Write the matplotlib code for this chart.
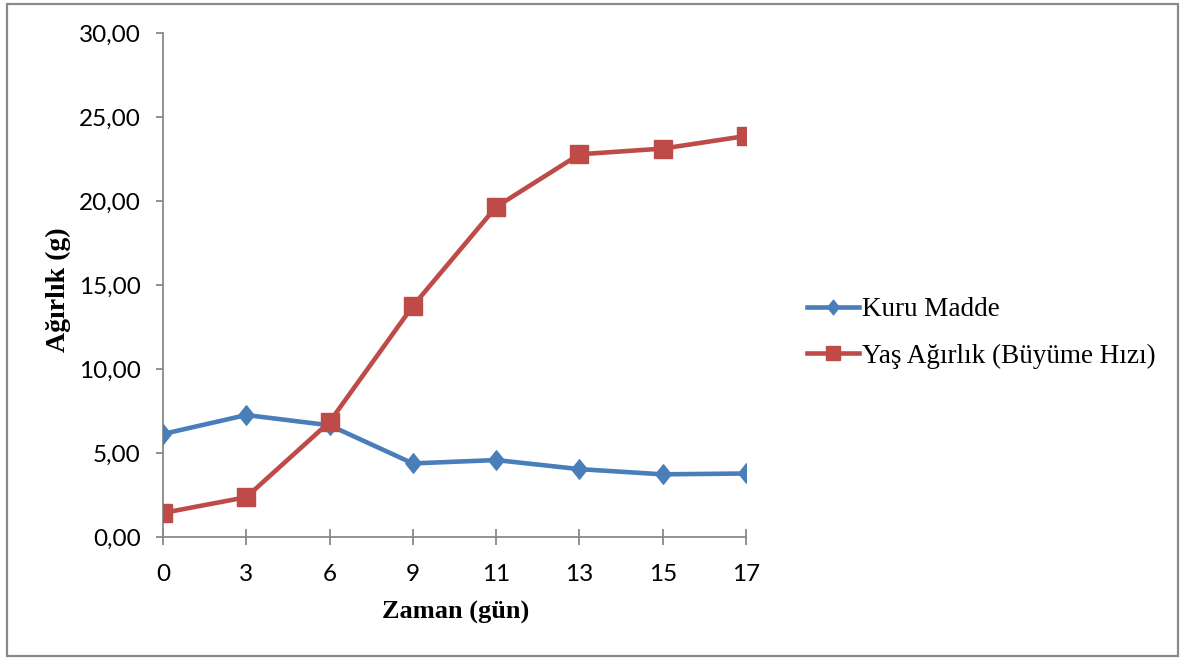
import numpy as np
import matplotlib.pyplot as plt
from matplotlib.path import Path
from matplotlib.patches import Rectangle

days = ['0', '3', '6', '9', '11', '13', '15', '17']
kuru_madde = [6.13, 7.26, 6.65, 4.38, 4.58, 4.04, 3.73, 3.78]
yas_agirlik = [1.43, 2.37, 6.85, 13.75, 19.65, 22.78, 23.12, 23.87]
y_ticks = [0, 5, 10, 15, 20, 25, 30]

blue = '#4A7EBB'
red = '#BE4B48'
grey = '#898989'

W, H = 1183, 659
fig = plt.figure(figsize=(W / 100, H / 100), dpi=100)
ax = fig.add_axes([163 / W, 1 - 537 / H, (746 - 163) / W, (537 - 33) / H])

# tall diamond like the Excel marker
diamond = Path([(0, 1), (0.8, 0), (0, -1), (-0.8, 0), (0, 1)],
               [Path.MOVETO, Path.LINETO, Path.LINETO, Path.LINETO, Path.CLOSEPOLY])

x = np.arange(len(days))
ax.plot(x, kuru_madde, color=blue, lw=3.3, marker=diamond, ms=14,
        mec=blue, mfc=blue, label='Kuru Madde', zorder=3)
ax.plot(x, yas_agirlik, color=red, lw=3.3, marker='s', ms=13,
        mec=red, mfc=red, label='Yaş Ağırlık (Büyüme Hızı)', zorder=4)

ax.set_xlim(0, len(days) - 1)
ax.set_ylim(0, 30)
ax.set_xticks(x)
ax.set_xticklabels(days)
ax.set_yticks(y_ticks)
ax.set_yticklabels([f'{v:.2f}'.replace('.', ',') for v in y_ticks])

for s in ['top', 'right']:
    ax.spines[s].set_visible(False)
for s in ['left', 'bottom']:
    ax.spines[s].set_color(grey)
    ax.spines[s].set_linewidth(1.3)
    ax.spines[s].set_zorder(1)

ax.tick_params(axis='y', direction='out', length=5, width=1.3, color=grey, pad=11,
               labelsize=17.5)
ax.tick_params(axis='x', direction='inout', length=11, width=1.3, color=grey, pad=14,
               labelsize=17.5)
for lab in ax.get_xticklabels() + ax.get_yticklabels():
    lab.set_family('Lato')

fig.text(456 / W, 1 - 612 / H, 'Zaman (gün)', ha='center', va='center',
         family='Liberation Serif', weight='bold', fontsize=19)
fig.text(58 / W, 1 - 290 / H, 'Ağırlık (g)', ha='center', va='center', rotation=90,
         family='Liberation Serif', weight='bold', fontsize=20)

fig.legend(loc='center left', bbox_to_anchor=(783 / W, 1 - 333 / H), frameon=False,
           prop={'family': 'Liberation Serif', 'size': 19.5}, handlelength=1.9,
           handletextpad=0.1, labelspacing=0.8, markerscale=0.75)

fig.patches.append(Rectangle((7 / W, 3 / H), (1178 - 7) / W, (655 - 3) / H,
                             transform=fig.transFigure, fill=False, ec=grey, lw=1.6))

fig.savefig('out.png', dpi=100)
